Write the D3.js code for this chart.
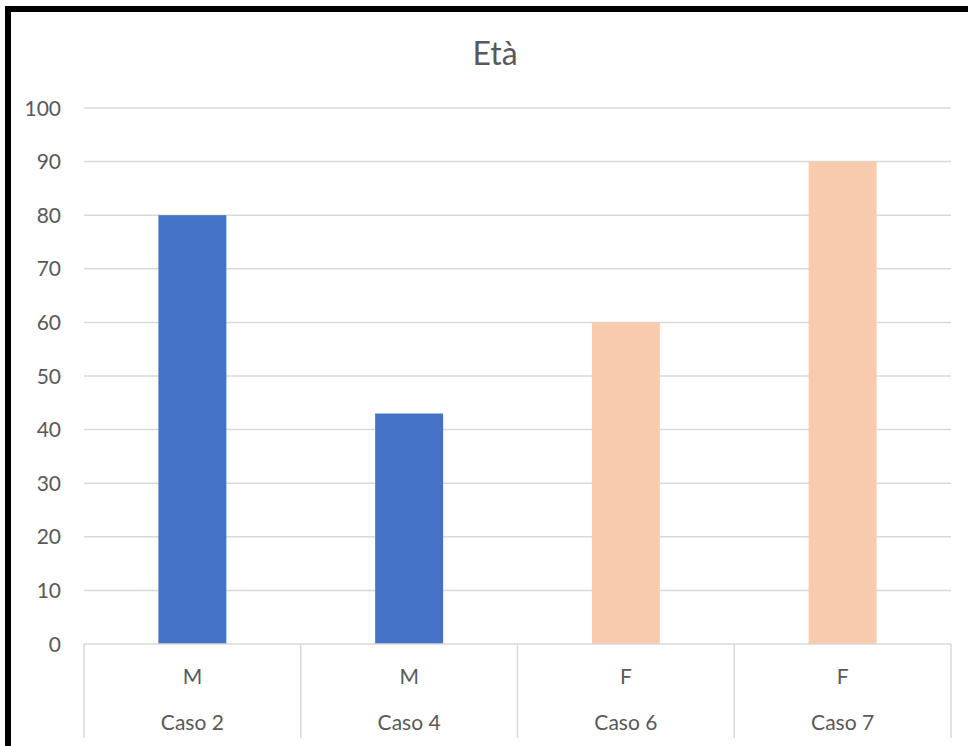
<!DOCTYPE html>
<html><head><meta charset="utf-8">
<script src="https://cdn.jsdelivr.net/npm/d3@7"></script>
<style>body{margin:0;background:#fff}svg{display:block}</style>
</head><body>
<svg id="c" width="968" height="746"></svg>
<script>
const categories = ["Caso 2","Caso 4","Caso 6","Caso 7"];
const genders = ["M","M","F","F"];
const values = [80,43,60,90];
const barColors = ["#4472C4","#4472C4","#F8CBAD","#F8CBAD"];
const yTicks = [0,10,20,30,40,50,60,70,80,90,100];
const title = "Età";

(function(){
const svg = d3.select("#c");
const font = "Lato, 'Open Sans', sans-serif";
const pLeft = 84, pRight = 951, pTop = 108, pBottom = 644;

// border
svg.append("path").attr("d","M8,746 V9 H968").attr("fill","none").attr("stroke","#000").attr("stroke-width",6);

const x = d3.scaleBand().domain(categories).range([pLeft,pRight]).paddingInner(0).paddingOuter(0);
const y = d3.scaleLinear().domain([0,100]).range([pBottom,pTop]);

// gridlines
svg.append("g").selectAll("line").data(yTicks.filter(d=>d>0)).join("line")
  .attr("x1",pLeft).attr("x2",pRight).attr("y1",d=>y(d)).attr("y2",d=>y(d))
  .attr("stroke","#d9d9d9").attr("stroke-width",1.5);

// y labels
svg.append("g").selectAll("text").data(yTicks).join("text")
  .attr("x",61).attr("y",d=>y(d)).attr("dy","0.36em").attr("text-anchor","end")
  .attr("font-family",font).attr("font-size",21).attr("fill","#595959").text(d=>d);

// bars
const bw = x.bandwidth()/3.19;
svg.append("g").selectAll("rect").data(values).join("rect")
  .attr("x",(d,i)=>x(categories[i])+x.bandwidth()/2-bw/2)
  .attr("width",bw)
  .attr("y",d=>y(d)).attr("height",d=>y(0)-y(d))
  .attr("fill",(d,i)=>barColors[i]);

// category axis
const ax = svg.append("g");
ax.append("line").attr("x1",pLeft).attr("x2",pRight).attr("y1",pBottom).attr("y2",pBottom).attr("stroke","#d9d9d9").attr("stroke-width",1.5);
const seps = categories.map(c=>x(c)).concat([pRight]);
ax.selectAll("line.sep").data(seps).join("line").attr("class","sep")
  .attr("x1",d=>d).attr("x2",d=>d).attr("y1",pBottom).attr("y2",738)
  .attr("stroke","#d9d9d9").attr("stroke-width",1.5);
ax.selectAll("text.g").data(genders).join("text").attr("class","g")
  .attr("x",(d,i)=>x(categories[i])+x.bandwidth()/2).attr("y",676).attr("dy","0.36em")
  .attr("text-anchor","middle").attr("font-family",font).attr("font-size",21).attr("fill","#595959").text(d=>d);
ax.selectAll("text.c").data(categories).join("text").attr("class","c")
  .attr("x",d=>x(d)+x.bandwidth()/2).attr("y",722).attr("dy","0.36em")
  .attr("text-anchor","middle").attr("font-family",font).attr("font-size",21).attr("fill","#595959").text(d=>d);

// title
svg.append("text").attr("x",495).attr("y",65).attr("text-anchor","middle")
  .attr("font-family",font).attr("font-size",32).attr("fill","#595959").text(title);
})();
</script>
</body></html>
